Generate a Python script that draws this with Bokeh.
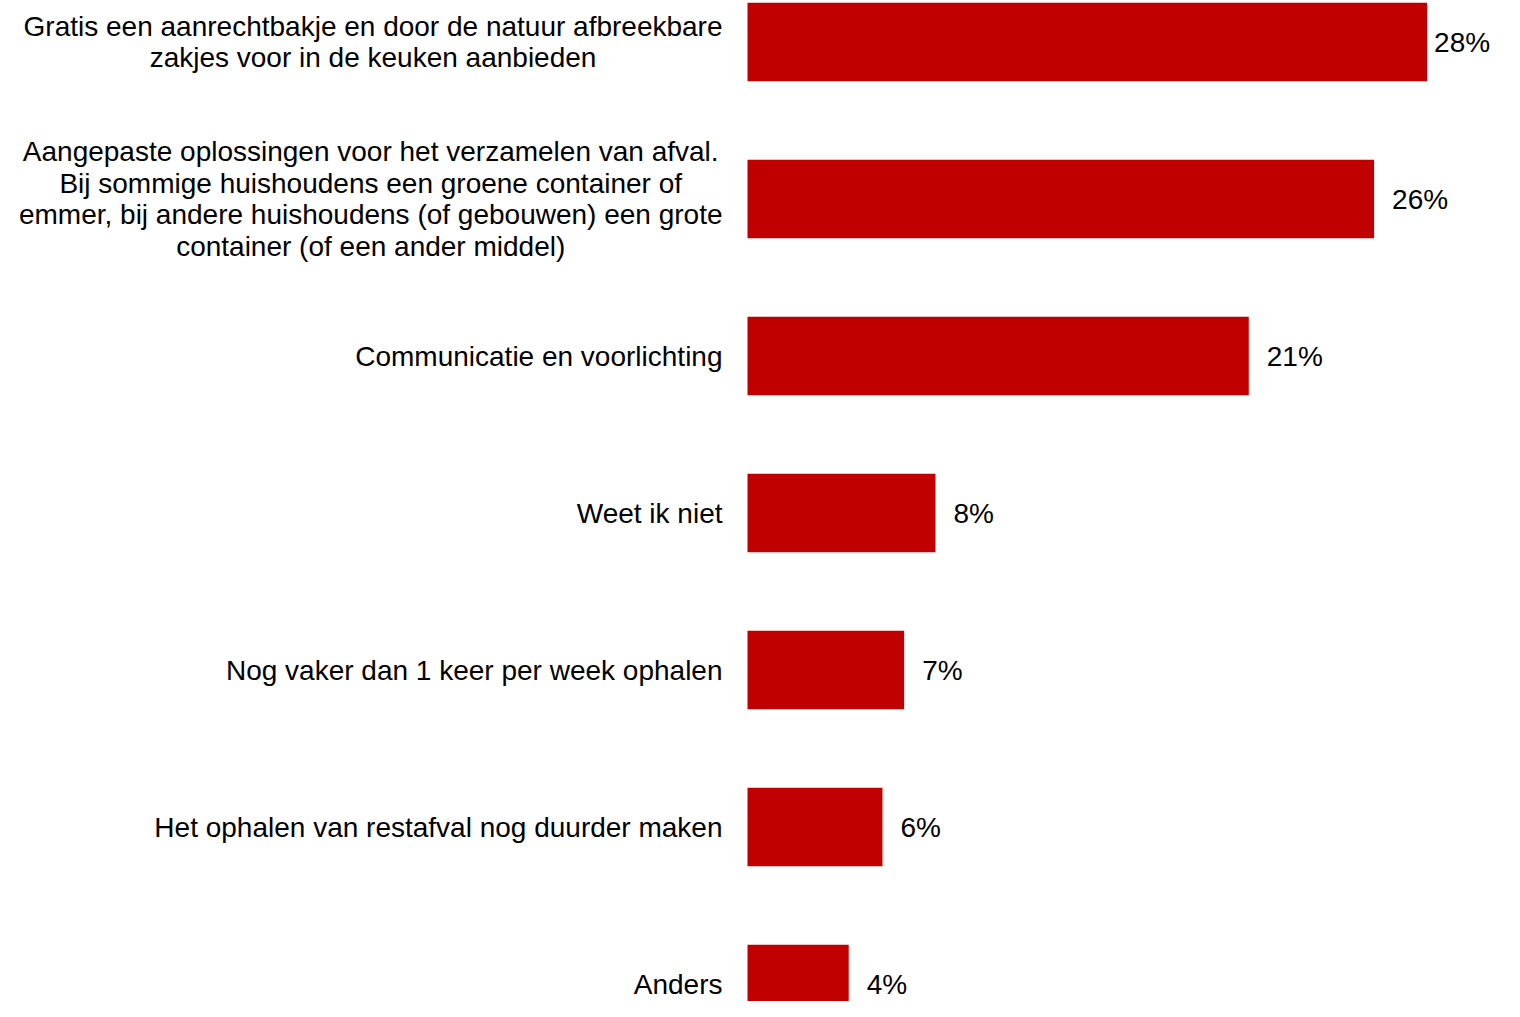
import numpy as np
from bokeh.plotting import figure
from bokeh.models import ColumnDataSource, Range1d
from bokeh.core.properties import value
from bokeh.embed import file_html
from bokeh.resources import INLINE

categories = [
    "Gratis een aanrechtbakje en door de natuur afbreekbare\nzakjes voor in de keuken aanbieden",
    "Aangepaste oplossingen voor het verzamelen van afval.\nBij sommige huishoudens een groene container of\nemmer, bij andere huishoudens (of gebouwen) een grote\ncontainer (of een ander middel)",
    "Communicatie en voorlichting",
    "Weet ik niet",
    "Nog vaker dan 1 keer per week ophalen",
    "Het ophalen van restafval nog duurder maken",
    "Anders",
]
values = [28.2, 26.0, 20.8, 7.8, 6.5, 5.6, 4.2]
value_labels = ["28%", "26%", "21%", "8%", "7%", "6%", "4%"]

W, H = 1504, 1001
zero_px = 747.0
px_per_unit = 24.1
row_px = 157.0
first_center_px = 41.5

pos = np.arange(len(categories))
offsets = [7 if v == max(values) else 18 for v in values]

src = ColumnDataSource(dict(cat=categories, val=values, lab=value_labels,
                            y=pos, zero=[0] * len(values), off=offsets))

p = figure(width=W, height=H, output_backend="svg", toolbar_location=None,
           x_range=Range1d(-zero_px / px_per_unit, (W - zero_px) / px_per_unit),
           y_range=Range1d((H - first_center_px) / row_px, -first_center_px / row_px),
           min_border=0, background_fill_color="white", border_fill_color="white")
p.axis.visible = False
p.grid.visible = False
p.outline_line_color = None

p.hbar(y="y", left="zero", right="val", height=0.5, source=src,
       fill_color="#C00000", line_color=None)

p.text(x="zero", y="y", text="cat", source=src, x_offset=-25,
       text_font=value("Liberation Sans"), text_font_size="28px",
       text_align="center", anchor="center_right", text_baseline="middle",
       text_line_height=1.02, text_color="#000000")

p.text(x="val", y="y", text="lab", source=src, x_offset="off",
       text_font=value("Liberation Sans"), text_font_size="28px",
       text_align="left", text_baseline="middle", text_color="#000000")

open("out.html", "w").write(file_html(p, INLINE))
